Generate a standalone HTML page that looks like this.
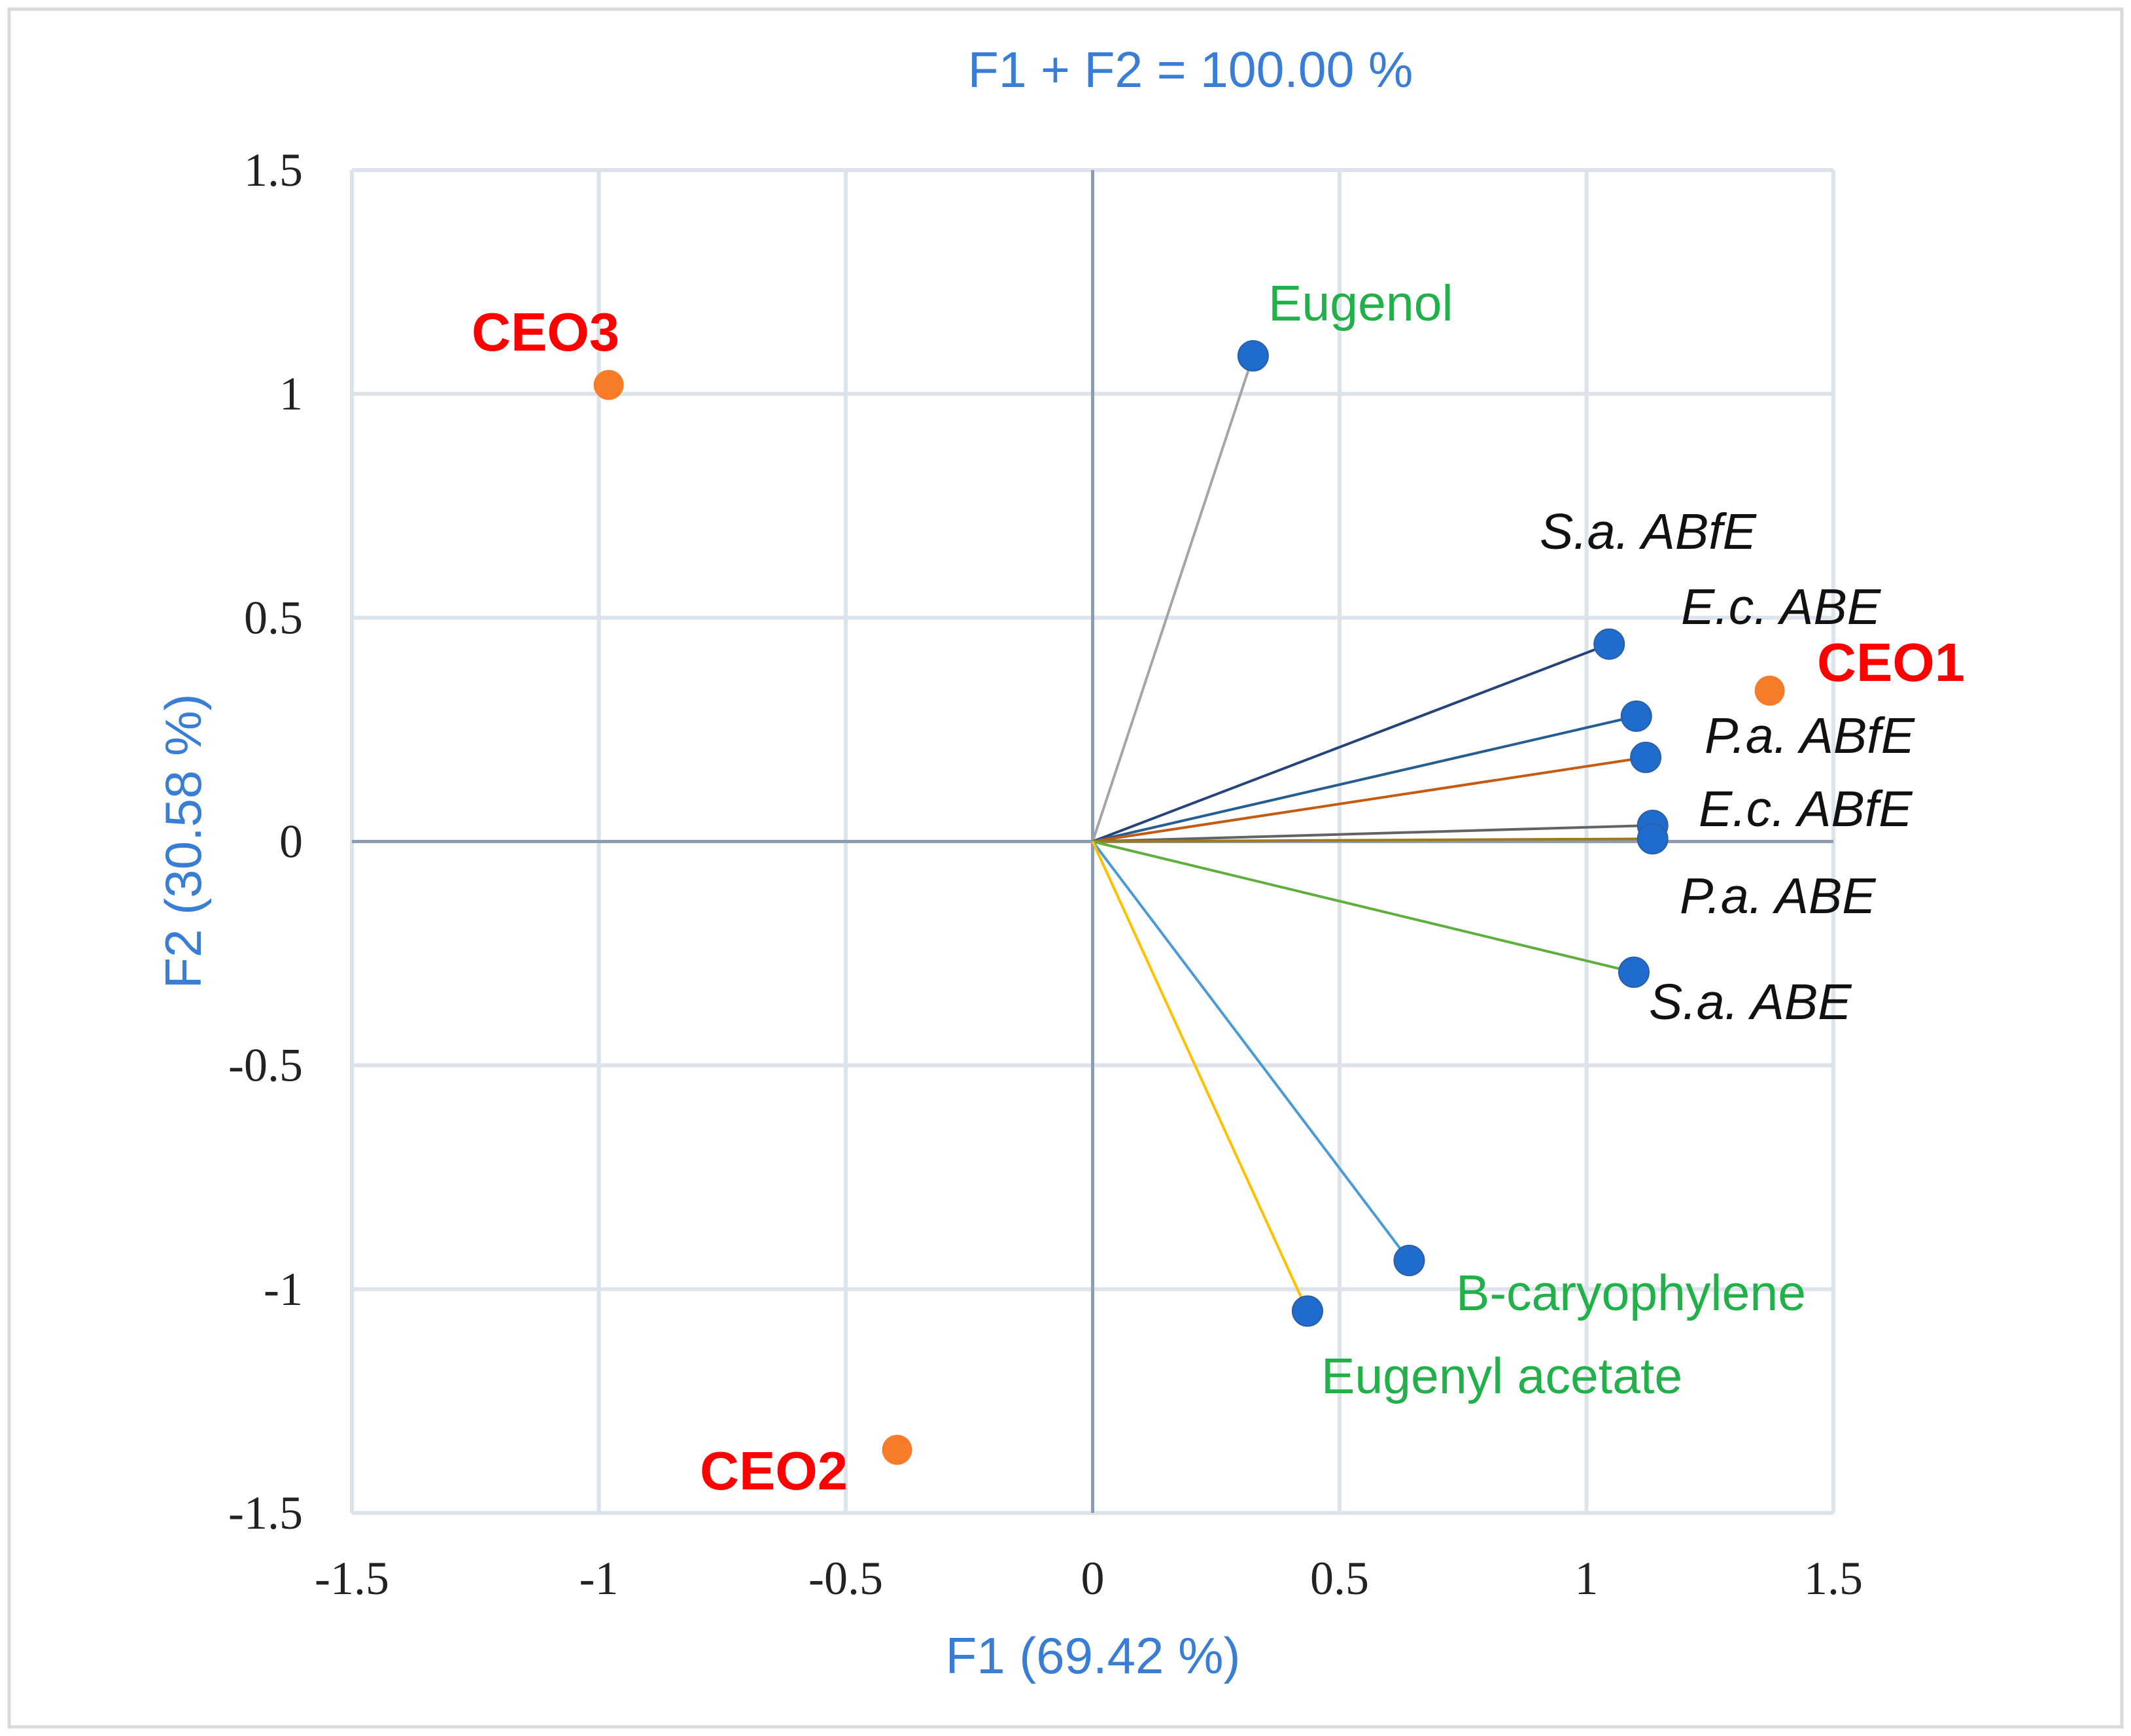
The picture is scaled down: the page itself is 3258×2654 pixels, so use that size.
<!DOCTYPE html>
<html><head><meta charset="utf-8"><style>
html,body{margin:0;padding:0;background:#fff;}
svg{display:block;}
</style></head><body>
<svg id="chart" width="3258" height="2654" viewBox="0 0 3258 2654" xmlns="http://www.w3.org/2000/svg">
<rect x="14" y="14" width="3230" height="2626" fill="#fff" stroke="#d9d9d9" stroke-width="5"/>
<g id="grid"></g>
<g id="axes"></g>
<g id="vectors"></g>
<g id="marks"></g>
<g id="labels"></g>
<text x="1820" y="133" text-anchor="middle" font-family="Liberation Sans, sans-serif" font-size="77" fill="#3a7dd4">F1 + F2 = 100.00 %</text>
<text x="1671" y="2558" text-anchor="middle" font-family="Liberation Sans, sans-serif" font-size="78" fill="#3a7dd4">F1 (69.42 %)</text>
<text transform="translate(307,1286) rotate(-90)" text-anchor="middle" font-family="Liberation Sans, sans-serif" font-size="78" fill="#3a7dd4">F2 (30.58 %)</text>
</svg>
<script>
const ticks = [-1.5, -1, -0.5, 0, 0.5, 1, 1.5];
const tickLabels = ["-1.5", "-1", "-0.5", "0", "0.5", "1", "1.5"];
const varNames = ["Eugenol", "S.a. ABfE", "E.c. ABE", "P.a. ABfE", "E.c. ABfE", "P.a. ABE", "S.a. ABE", "B-caryophylene", "Eugenyl acetate"];
const varF1 = [0.325, 1.046, 1.101, 1.120, 1.134, 1.134, 1.096, 0.641, 0.435];
const varF2 = [1.085, 0.441, 0.280, 0.188, 0.036, 0.006, -0.292, -0.936, -1.049];
const obsNames = ["CEO1", "CEO2", "CEO3"];
const obsF1 = [1.371, -0.396, -0.980];
const obsF2 = [0.337, -1.359, 1.020];

const NS = "http://www.w3.org/2000/svg";
const X0 = 538, X1 = 2803, Y0 = 2313, Y1 = 260;
function sx(v){ return X0 + (v + 1.5) / 3 * (X1 - X0); }
function sy(v){ return Y0 - (v + 1.5) / 3 * (Y0 - Y1); }
function mk(tag, attrs, parent){ const e = document.createElementNS(NS, tag); for (const k in attrs) e.setAttribute(k, attrs[k]); parent.appendChild(e); return e; }

const lineColors = ["#a5a5a5", "#264478", "#255e91", "#c55a11", "#636363", "#9e7a1e", "#5fae3e", "#4a9ad8", "#ffc000"];
const labelStyle = [
 {x:1939, y:490, c:"#22b04a", it:false},
 {x:2354, y:839, c:"#111", it:true},
 {x:2570, y:954, c:"#111", it:true},
 {x:2606, y:1151, c:"#111", it:true},
 {x:2597, y:1263, c:"#111", it:true},
 {x:2568, y:1396, c:"#111", it:true},
 {x:2521, y:1558, c:"#111", it:true},
 {x:2226, y:2003, c:"#22b04a", it:false},
 {x:2020, y:2130, c:"#22b04a", it:false}
];
const obsLabelPos = [{x:2778, y:1041}, {x:1070, y:2277}, {x:721, y:536}];

const grid = document.getElementById('grid');
const axes = document.getElementById('axes');
ticks.forEach((t, i) => {
  if (t !== 0) {
    const gv = mk('line', {x1:sx(t), x2:sx(t), y1:Y1, y2:Y0, stroke:"#dde3ea", "stroke-width":6}, grid);
    
    
    const gh = mk('line', {x1:X0, x2:X1, y1:sy(t), y2:sy(t), stroke:"#dde3ea", "stroke-width":6}, grid);
    
    
  }
  const xl = mk('text', {x:sx(t), y:2437, "text-anchor":"middle", "font-family":"Liberation Serif, serif", "font-size":72, fill:"#222"}, axes);
  xl.textContent = tickLabels[i];
  
  
  const yl = mk('text', {x:463, y:sy(t) + 24, "text-anchor":"end", "font-family":"Liberation Serif, serif", "font-size":72, fill:"#222"}, axes);
  yl.textContent = tickLabels[i];
  
  
});
const ax = mk('line', {x1:X0, x2:X1, y1:sy(0), y2:sy(0), stroke:"#8e9cb3", "stroke-width":5}, axes);


const ay = mk('line', {x1:sx(0), x2:sx(0), y1:Y1, y2:Y0, stroke:"#8e9cb3", "stroke-width":5}, axes);



const vg = document.getElementById('vectors');
const mg = document.getElementById('marks');
const lg = document.getElementById('labels');
varNames.forEach((n, i) => {
  const l = mk('line', {x1:sx(0), y1:sy(0), x2:sx(varF1[i]), y2:sy(varF2[i]), stroke:lineColors[i], "stroke-width":4}, vg);
  
  
  const c = mk('circle', {cx:sx(varF1[i]), cy:sy(varF2[i]), r:23, fill:"#1f6ccc", stroke:"#2a5fa8", "stroke-width":2}, mg);
  
  
  const s = labelStyle[i];
  const t = mk('text', {x:s.x, y:s.y, "font-family":"Liberation Sans, sans-serif", "font-size":77, fill:s.c, "font-style":s.it ? "italic" : "normal"}, lg);
  t.textContent = n;
  
  
});
obsNames.forEach((n, i) => {
  const c = mk('circle', {cx:sx(obsF1[i]), cy:sy(obsF2[i]), r:23, fill:"#f77c2a"}, mg);
  
  
  const t = mk('text', {x:obsLabelPos[i].x, y:obsLabelPos[i].y, "font-family":"Liberation Sans, sans-serif", "font-size":83, "font-weight":"bold", fill:"#ff0000"}, lg);
  t.textContent = n;
  
  
});
</script>
</body></html>
